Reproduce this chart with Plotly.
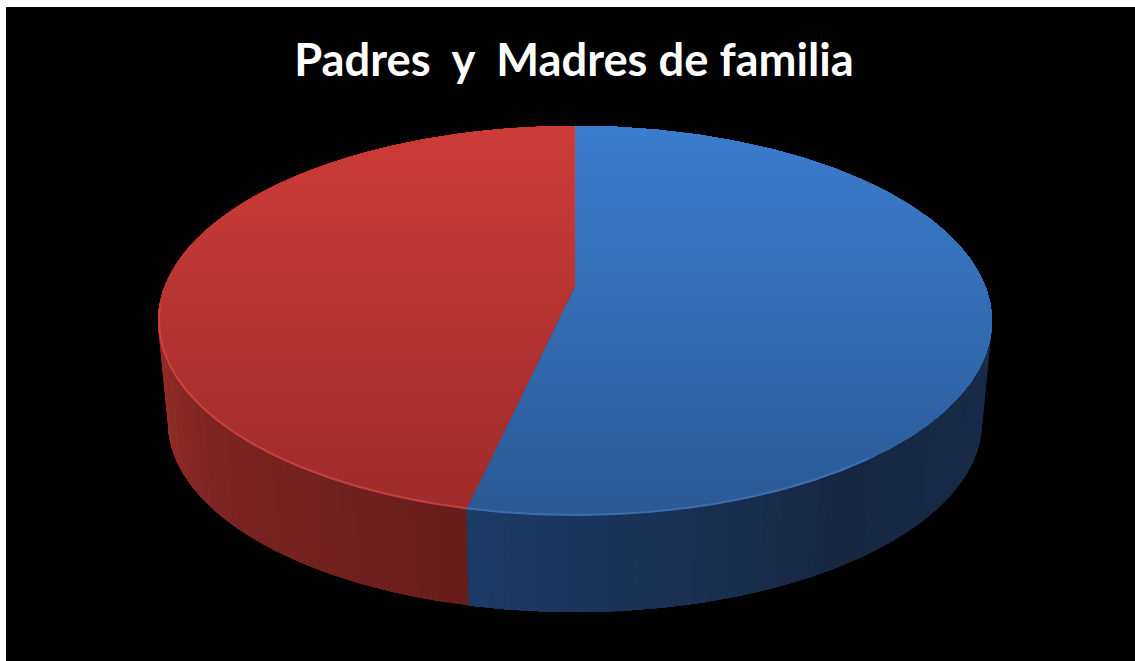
import numpy as np
import plotly.graph_objects as go

# ---- data ----
categories = ["Madres", "Padres"]
values = [54.2, 45.8]
title_text = "Padres  y  Madres de familia"

# ---- styling / projection of the tilted disc ----
W, H = 1135, 661
CX = 575
TOP_CY, TOP_RX, TOP_RY = 321, 417, 195
BOT_CY, BOT_RX, BOT_RY = 422, 407, 190
APEX_Y = 285
top_cols = {"Madres": ((60, 125, 207), (43, 90, 150)), "Padres": ((205, 60, 56), (158, 44, 42))}
side_cols = {
    "Madres": [(90, (24, 43, 72)), (140, (23, 39, 66)), (195, (28, 60, 104))],
    "Padres": [(195, (104, 30, 28)), (240, (125, 37, 34)), (270, (152, 46, 42))],
}
rim_cols = {"Madres": "rgba(84,140,205,0.4)", "Padres": "rgba(226,92,86,0.45)"}


def rim(deg, cy, rx, ry):
    a = np.radians(deg)
    return CX + rx * np.sin(a), cy - ry * np.cos(a)


def rgb(c):
    return "rgb(%d,%d,%d)" % tuple(int(round(v)) for v in c)


def clip_above(xs, ys, limit):
    """Keep the part of a polygon with y <= limit."""
    ox, oy = [], []
    n = len(xs)
    for i in range(n):
        x0, y0, x1, y1 = xs[i], ys[i], xs[(i + 1) % n], ys[(i + 1) % n]
        if y0 <= limit:
            ox.append(x0)
            oy.append(y0)
        if (y0 <= limit) != (y1 <= limit):
            t = (limit - y0) / (y1 - y0)
            ox.append(x0 + t * (x1 - x0))
            oy.append(limit)
    return ox, oy


def poly(xs, ys, color):
    return go.Scatter(x=list(xs), y=list(ys), mode="lines", fill="toself", fillcolor=color,
                      line=dict(width=0, color=color), hoverinfo="skip", showlegend=False)


fig = go.Figure()

# slice angles, clockwise from twelve o'clock
total = sum(values)
edges = np.concatenate([[0], np.cumsum(values) / total * 360])
spans = {c: (edges[i], edges[i + 1]) for i, c in enumerate(categories)}

# side wall: painted strip by strip, each polygon reaching to the end of the visible arc
for cat in categories:
    a0, a1 = spans[cat]
    lo, hi = max(a0, 90), min(a1, 270)
    stops = side_cols[cat]
    steps = np.arange(lo, hi, 1.5)
    for s in steps:
        angs = np.linspace(s, hi, max(2, int((hi - s) * 2) + 2))
        tx, ty = rim(angs, TOP_CY, TOP_RX, TOP_RY)
        bx, by = rim(angs[::-1], BOT_CY, BOT_RX, BOT_RY)
        col = [np.interp(s, [p[0] for p in stops], [p[1][k] for p in stops]) for k in range(3)]
        fig.add_trace(poly(np.r_[tx, bx], np.r_[ty, by], rgb(col)))

# top face: each wedge painted from the full shape upward with a vertical gradient
y_top, y_bot = TOP_CY - TOP_RY, TOP_CY + TOP_RY
for cat in categories:
    a0, a1 = spans[cat]
    angs = np.linspace(a0, a1, 361)
    rx, ry = rim(angs, TOP_CY, TOP_RX, TOP_RY)
    xs, ys = [CX] + list(rx), [APEX_Y] + list(ry)
    c_top, c_bot = top_cols[cat]
    for lim in np.linspace(y_bot, y_top, 56):
        px, py = clip_above(xs, ys, lim)
        if len(px) < 3:
            continue
        t = (lim - y_top) / (y_bot - y_top)
        fig.add_trace(poly(px, py, rgb([c_top[k] + t * (c_bot[k] - c_top[k]) for k in range(3)])))

# soft highlight along the front edge of the top face
for cat in categories:
    a0, a1 = spans[cat]
    lo, hi = max(a0, 135), min(a1, 275)
    hx, hy = rim(np.linspace(lo, hi, 200), TOP_CY, TOP_RX - 1, TOP_RY - 1)
    fig.add_trace(go.Scatter(x=hx, y=hy, mode="lines", line=dict(width=2, color=rim_cols[cat]),
                             hoverinfo="skip", showlegend=False))

fig.update_layout(
    width=W, height=H,
    margin=dict(l=0, r=0, t=0, b=0),
    paper_bgcolor="white", plot_bgcolor="black",
    showlegend=False,
    title=dict(text="<b>%s</b>" % title_text, x=574 / W, xanchor="center", xref="paper",
               y=1 - 60 / H, yanchor="middle", yref="container",
               font=dict(family="Lato", size=45.3, color="white")),
    xaxis=dict(domain=[6 / W, 1], range=[6, W], visible=False, fixedrange=True),
    yaxis=dict(domain=[0, 1 - 7 / H], range=[H, 7], visible=False, fixedrange=True),
)
fig.write_html("out.html", config={"displayModeBar": False},
               post_script="document.body.style.margin='0';document.documentElement.style.overflow='hidden';")
